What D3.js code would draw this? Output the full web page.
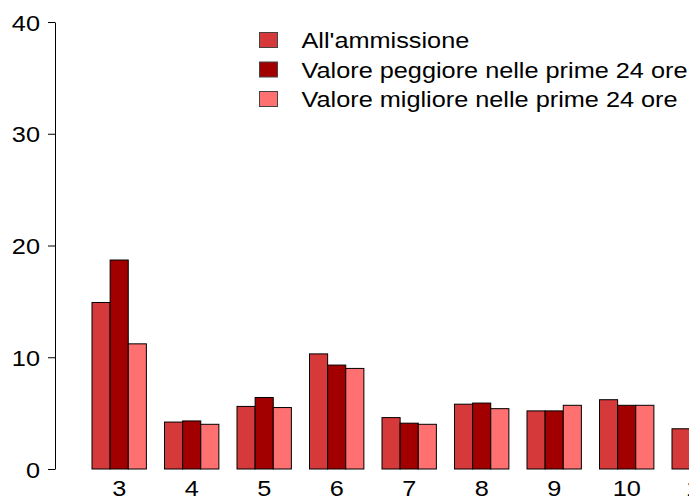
<!DOCTYPE html>
<html>
<head>
<meta charset="utf-8">
<script src="https://cdn.jsdelivr.net/npm/d3@7"></script>
<style>
  body { margin: 0; background: #fff; }
  svg { display: block; font-family: "Liberation Sans", Arial, sans-serif; }
</style>
</head>
<body>
<div id="chart"></div>
<script>
// data
var categories = ['3', '4', '5', '6', '7', '8', '9', '10', '11'];
var seriesNames = ["All'ammissione", 'Valore peggiore nelle prime 24 ore', 'Valore migliore nelle prime 24 ore'];
var ammissione = [14.9, 4.2, 5.6, 10.3, 4.6, 5.8, 5.2, 6.2, 3.6];
var peggiore   = [18.7, 4.3, 6.4, 9.3, 4.1, 5.9, 5.2, 5.7, 3.3];
var migliore   = [11.2, 4.0, 5.5, 9.0, 4.0, 5.4, 5.7, 5.7, 3.0];
var yTicks = [0, 10, 20, 30, 40];
var colors = ['#d6393a', '#a20000', '#ff7070'];

var svgWidth = 689;
var svgHeight = 498;
var fontSize = 22;
var stretch = 1.15; // the picture is a bit wider than tall

var svg = d3.select('#chart')
    .append('svg')
    .attr('width', svgWidth)
    .attr('height', svgHeight);

var rows = categories.map(function (c, i) {
    return { cat: c, values: [ammissione[i], peggiore[i], migliore[i]] };
});

// scales
var x0 = d3.scaleBand()
    .domain(categories)
    .range([92, 92 + 72.5 * 8.75])
    .paddingInner(0.25)
    .paddingOuter(0);

var x1 = d3.scaleBand()
    .domain([0, 1, 2])
    .range([0, x0.bandwidth()]);

var y = d3.scaleLinear()
    .domain([0, 40])
    .range([469, 22]);

// bars
var groups = svg.append('g')
    .selectAll('g')
    .data(rows)
    .enter()
    .append('g')
    .attr('transform', d => `translate(${x0(d.cat)},0)`);

groups.selectAll('rect')
    .data(d => d.values.map((v, k) => ({ k: k, v: v })))
    .enter()
    .append('rect')
    .attr('x', d => x1(d.k))
    .attr('y', d => y(d.v))
    .attr('width', x1.bandwidth())
    .attr('height', d => y(0) - y(d.v))
    .attr('fill', d => colors[d.k])
    .attr('stroke', '#000')
    .attr('stroke-width', 1);

// y axis
var leftAxis = d3.axisLeft(y)
    .tickValues(yTicks)
    .tickSizeInner(7)
    .tickSizeOuter(0);

var yAxis = svg.append('g')
    .attr('transform', 'translate(55,0)')
    .call(leftAxis);

yAxis.selectAll('line, path').attr('stroke', '#000');
yAxis.selectAll('text')
    .attr('x', 0)
    .attr('dy', null)
    .attr('y', 0)
    .attr('font-size', fontSize)
    .attr('font-family', '"Liberation Sans", Arial, sans-serif')
    .attr('fill', '#000')
    .attr('transform', `translate(-15,8) scale(${stretch},1)`);

// x labels
svg.append('g')
    .selectAll('text')
    .data(categories)
    .enter()
    .append('text')
    .attr('transform', d => `translate(${x0(d) + x0.bandwidth() / 2},496) scale(${stretch},1)`)
    .attr('text-anchor', 'middle')
    .attr('font-size', fontSize)
    .attr('fill', '#000')
    .text(d => d);

// legend
var legend = svg.append('g')
    .selectAll('g')
    .data(seriesNames)
    .enter()
    .append('g')
    .attr('transform', (d, i) => `translate(259.5,${32.5 + i * 29.5})`);

legend.append('rect')
    .attr('width', 18)
    .attr('height', 15)
    .attr('fill', (d, i) => colors[i])
    .attr('stroke', '#444')
    .attr('stroke-width', 1);

legend.append('text')
    .attr('transform', `translate(42,15.5) scale(${stretch},1)`)
    .attr('font-size', fontSize)
    .attr('fill', '#000')
    .text(d => d);
</script>
</body>
</html>
